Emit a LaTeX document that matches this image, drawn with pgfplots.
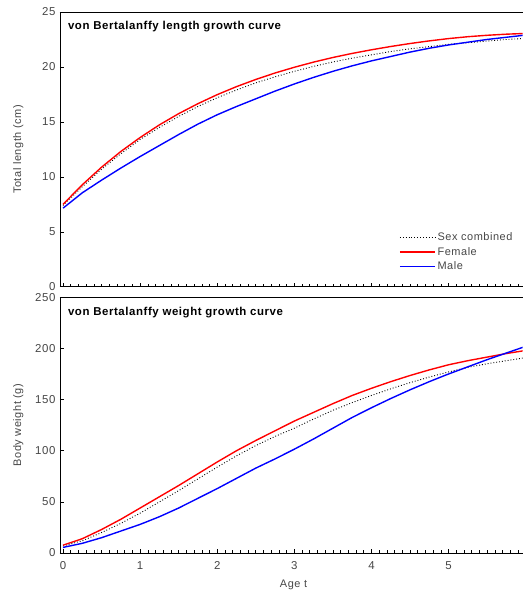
\documentclass[border=0pt]{standalone}
\usepackage{fontspec}
\setmainfont{Liberation Sans}[LetterSpace=5]
\usepackage{pgfplots}
\pgfplotsset{compat=1.18}
\definecolor{lbl}{RGB}{70,70,70}
\begin{document}
\begin{tikzpicture}
\pgfplotsset{
  vb/.style={
    scale only axis, width=463bp,
    xmin=-0.04, xmax=5.96,
    axis x line=box, axis y line*=left,
    axis line style={-, line width=0.9pt},
    xtick={0,...,6}, minor x tick num=9, xtick pos=lower, ytick pos=left,
    tick align=inside, major tick length=4bp, minor tick length=3bp,
    tick style={black, line width=0.6pt},
    tick label style={font=\fontsize{11.5}{13}\selectfont, text=lbl},
    xticklabel style={yshift=-5bp},
    yticklabel style={xshift=-1bp},
    label style={font=\fontsize{11}{13}\selectfont, text=lbl},
    /pgf/number format/assume math mode=true,
    ylabel style={at={(axis description cs:-0.09,0.5)}, anchor=center},
    clip=true,
  },
}
\tikzset{ttl/.style={anchor=north west, inner sep=0pt, font=\bfseries\fontsize{11.5}{13}\selectfont}}
% --- length ---
\begin{axis}[vb, name=top, height=275bp,
  ymin=0, ymax=25, ytick={0,5,...,25},
  xticklabel=\empty,
  ylabel={Total length (cm)},
  legend style={at={(rel axis cs:0.985,0.045)}, anchor=south east, draw=none, fill=none,
    font=\fontsize{11}{12}\selectfont, text=lbl, row sep=1bp, inner sep=1bp},
  legend cell align=left,
  legend image code/.code={\draw[#1] (0bp,0bp) -- (35bp,0bp);},
]
\coordinate (tl) at (rel axis cs:0,1);
\addplot[black, dotted, line width=0.9pt] coordinates {
(0,7.4) (0.25,9.1) (0.5,10.7) (0.75,12.1) (1,13.4) (1.25,14.5) (1.5,15.5) (1.75,16.4)
(2,17.2) (2.25,17.9) (2.5,18.55) (2.75,19.1) (3,19.6) (3.25,20.05) (3.5,20.45) (3.75,20.8)
(4,21.1) (4.25,21.4) (4.5,21.65) (4.75,21.85) (5,22.05) (5.25,22.2) (5.5,22.35) (5.75,22.5) (6,22.6)};
\addlegendentry{Sex combined}
\addplot[red, line width=1.4pt] coordinates {
(0,7.5) (0.25,9.28) (0.5,10.88) (0.75,12.31) (1,13.58) (1.25,14.73) (1.5,15.75) (1.75,16.66)
(2,17.48) (2.25,18.21) (2.5,18.86) (2.75,19.45) (3,19.97) (3.25,20.44) (3.5,20.86) (3.75,21.23)
(4,21.56) (4.25,21.86) (4.5,22.13) (4.75,22.37) (5,22.58) (5.25,22.75) (5.5,22.88) (5.75,22.98) (6,23.05)};
\addlegendentry{Female}
\addplot[blue, line width=1.4pt] coordinates {
(0,7.15) (0.25,8.55) (0.5,9.7) (0.75,10.8) (1,11.85) (1.25,12.85) (1.5,13.85) (1.75,14.8)
(2,15.65) (2.25,16.4) (2.5,17.1) (2.75,17.8) (3,18.45) (3.25,19.05) (3.5,19.6) (3.75,20.1)
(4,20.55) (4.25,20.95) (4.5,21.35) (4.75,21.7) (5,22.0) (5.25,22.25) (5.5,22.5) (5.75,22.7) (6,22.9)};
\addlegendentry{Male}
\node[ttl] at (rel axis cs:0.017,0.968) {von Bertalanffy length growth curve};
\end{axis}
% --- weight ---
\begin{axis}[vb, name=bot, height=256bp,
  at={(top.south west)}, anchor=north west, yshift=-10.5bp,
  ymin=0, ymax=250, ytick={0,50,...,250},
  ylabel={Body weight (g)},
  xlabel={Age t},
  xlabel style={at={(axis description cs:0.505,-0.125)}, anchor=center},
]
\coordinate (br) at (rel axis cs:1,0);
\addplot[black, dotted, line width=0.9pt] coordinates {
(0,7) (0.25,12) (0.5,20) (0.75,29) (1,39) (1.25,50) (1.5,61) (1.75,72.5)
(2,84) (2.25,95) (2.5,105) (2.75,114) (3,122) (3.25,131) (3.5,139.5) (3.75,147)
(4,154) (4.25,160.5) (4.5,166.5) (4.75,172) (5,177) (5.25,181.5) (5.5,185) (5.75,188) (6,191)};
\addplot[red, line width=1.4pt] coordinates {
(0,7.7) (0.25,14) (0.5,23) (0.75,33) (1,44) (1.25,55) (1.5,66) (1.75,77.5)
(2,89) (2.25,100) (2.5,110) (2.75,119.5) (3,129) (3.25,137.5) (3.5,146) (3.75,154)
(4,161) (4.25,167.5) (4.5,173.5) (4.75,179) (5,184) (5.25,188) (5.5,191.5) (5.75,195) (6,198)};
\addplot[blue, line width=1.4pt] coordinates {
(0,5.5) (0.25,9.5) (0.5,15) (0.75,21.5) (1,28) (1.25,35.5) (1.5,44) (1.75,53.5)
(2,63) (2.25,73) (2.5,83) (2.75,92) (3,101.5) (3.25,111.5) (3.5,122) (3.75,132.5)
(4,142) (4.25,151) (4.5,159.5) (4.75,167.5) (5,175) (5.25,182) (5.5,189) (5.75,195.5) (6,202)};
\node[ttl] at (rel axis cs:0.017,0.962) {von Bertalanffy weight growth curve};
\end{axis}
\pgfresetboundingbox
\useasboundingbox ([xshift=-60bp,yshift=12bp]tl) rectangle ([yshift=-40bp]br);
\end{tikzpicture}
\end{document}
